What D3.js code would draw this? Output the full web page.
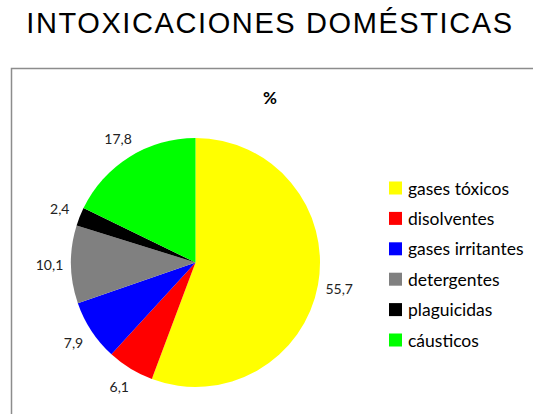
<!DOCTYPE html>
<html>
<head>
<meta charset="utf-8">
<script src="https://cdn.jsdelivr.net/npm/d3@7"></script>
<style>
  html, body { margin: 0; padding: 0; background: #fff; }
  svg { display: block; }
</style>
</head>
<body>
<svg id="chart" width="533" height="414"></svg>
<script>
// Household poisoning causes, percentage share
const categories = ["gases tóxicos", "disolventes", "gases irritantes", "detergentes", "plaguicidas", "cáusticos"];
const values = [55.7, 6.1, 7.9, 10.1, 2.4, 17.8];
const labels = ["55,7", "6,1", "7,9", "10,1", "2,4", "17,8"];
const colors = ["#ffff00", "#ff0000", "#0000ff", "#808080", "#000000", "#00ff00"];

const svg = d3.select("#chart");

// Page title
svg.append("text")
  .attr("x", 270).attr("y", 33)
  .attr("text-anchor", "middle")
  .attr("font-family", "Liberation Sans, Arial, sans-serif")
  .attr("font-size", 29)
  .attr("letter-spacing", 1.6)
  .attr("fill", "#000")
  .text("INTOXICACIONES DOMÉSTICAS");

// Chart frame (runs past the right and bottom edges)
svg.append("rect")
  .attr("x", 11.5).attr("y", 68.5)
  .attr("width", 540).attr("height", 360)
  .attr("fill", "none")
  .attr("stroke", "#8c8c8c")
  .attr("stroke-width", 1.5);

// Chart title
svg.append("text")
  .attr("x", 270).attr("y", 104)
  .attr("text-anchor", "middle")
  .attr("font-family", "Lato, sans-serif")
  .attr("font-weight", "bold")
  .attr("font-size", 17)
  .text("%");

const cx = 195.5, cy = 262.5, r = 124.5;
const g = svg.append("g").attr("transform", `translate(${cx},${cy})`);

const pie = d3.pie().sort(null).value(d => d)(values);
const arc = d3.arc().innerRadius(0).outerRadius(r);
const labelArc = d3.arc().innerRadius(146).outerRadius(146);

g.selectAll("path.slice")
  .data(pie)
  .join("path")
  .attr("class", "slice")
  .attr("d", arc)
  .attr("fill", (d, i) => colors[i]);

g.selectAll("text.val")
  .data(pie)
  .join("text")
  .attr("class", "val")
  .attr("transform", d => `translate(${labelArc.centroid(d)})`)
  .attr("text-anchor", "middle")
  .attr("dominant-baseline", "central")
  .attr("font-family", "Lato, sans-serif")
  .attr("font-size", 14)
  .attr("fill", "#222")
  .text((d, i) => labels[i]);

// Legend
const legend = svg.append("g").attr("transform", "translate(389,188)");
const rowH = 30.4;
const items = legend.selectAll("g.item")
  .data(categories)
  .join("g")
  .attr("class", "item")
  .attr("transform", (d, i) => `translate(0,${i * rowH})`);

items.append("rect")
  .attr("x", 0).attr("y", -6.5)
  .attr("width", 13).attr("height", 13)
  .attr("fill", (d, i) => colors[i]);

items.append("text")
  .attr("x", 19).attr("y", 0)
  .attr("dominant-baseline", "central")
  .attr("font-family", "Lato, sans-serif")
  .attr("font-size", 17.5)
  .attr("fill", "#000")
  .text(d => d);
</script>
</body>
</html>
